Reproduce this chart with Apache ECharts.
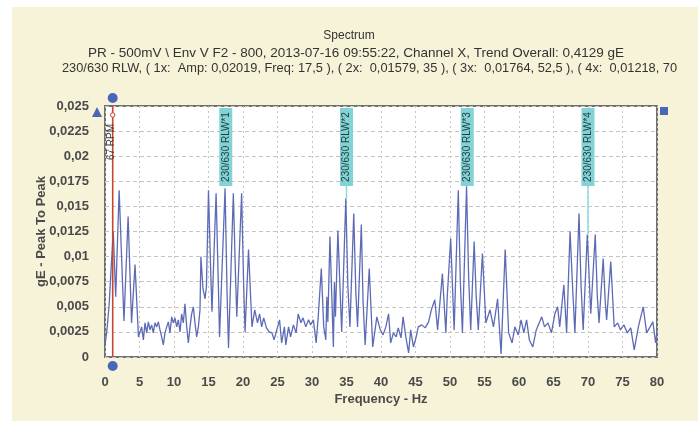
<!DOCTYPE html>
<html>
<head>
<meta charset="utf-8">
<script src="https://cdn.jsdelivr.net/npm/echarts/dist/echarts.min.js"></script>
<style>
  html, body { margin: 0; padding: 0; background: #ffffff; width: 698px; height: 421px; overflow: hidden; }
  #bg { position: absolute; left: 12px; top: 7px; right: 0; bottom: 0; background: #f7f3d8; }
  #chart { position: absolute; left: 0; top: 0; width: 698px; height: 421px; }
</style>
</head>
<body>
<div id="bg"></div>
<div id="chart"></div>
<script>
// ---- Data ----
const titleMain = 'Spectrum';
const titleLine2 = 'PR - 500mV \\ Env V F2 - 800, 2013-07-16 09:55:22, Channel X, Trend Overall: 0,4129 gE';
const titleLine3 = '230/630 RLW, ( 1x:  Amp: 0,02019, Freq: 17,5 ), ( 2x:  0,01579, 35 ), ( 3x:  0,01764, 52,5 ), ( 4x:  0,01218, 70';

const xAxisName = 'Frequency - Hz';
const yAxisName = 'gE - Peak To Peak';
const yTickLabels = ['0', '0,0025', '0,005', '0,0075', '0,01', '0,0125', '0,015', '0,0175', '0,02', '0,0225', '0,025'];

const freqHz = [
  0.0, 0.3, 0.6, 0.9, 1.2, 1.55, 2.05, 2.4, 2.75, 3.35, 3.85, 4.35, 4.85,
  5.07, 5.31, 5.56, 5.80, 6.04, 6.28, 6.52, 6.76, 7.00, 7.25, 7.49, 7.73, 7.97, 8.21, 8.45, 8.70, 8.94,
  9.18, 9.42, 9.66, 9.90, 10.14, 10.39, 10.63, 10.87, 11.11, 11.35, 11.59, 11.84, 12.08, 12.32, 12.56,
  12.80, 13.04, 13.29, 13.53, 13.77,
  13.9, 14.2, 14.5, 14.7, 15.0, 15.3, 15.5, 16.1, 16.4, 16.6, 17.4, 17.7, 17.9, 18.6, 18.9, 19.1, 19.8, 20.1, 20.3, 20.8, 21.3,
  21.7, 22.1, 22.4, 22.7, 23.0, 23.4, 23.8, 24.2, 24.5, 24.9, 25.3, 25.6, 26.0, 26.2, 26.6, 26.9,
  27.3, 27.7, 28.0, 28.4, 28.7, 29.1, 29.5, 29.8, 30.2, 30.6, 30.9,
  31.35, 31.7, 32.0, 32.15, 32.3, 32.6, 33.1, 33.25, 33.4, 33.75, 34.3, 34.9, 35.2, 35.5, 36.05, 36.35, 36.6,
  37.15, 37.4, 37.7, 38.3, 38.8, 39.4,
  39.9, 40.3, 40.7, 41.1, 41.4, 41.8, 42.2, 42.5, 42.9, 43.2, 43.6, 44.0, 44.3, 44.7, 45.1, 45.4,
  45.9, 46.4, 46.9, 47.3, 47.8, 48.2,
  48.9, 49.4, 49.6, 50.1, 50.6, 51.2, 51.5, 51.8, 52.4, 52.7, 53.0, 53.5, 53.8, 54.1, 54.7, 55.2, 55.8, 56.3, 56.9, 57.4,
  58.0, 58.5, 59.0, 59.4, 59.9,
  60.3, 60.7, 61.1, 61.5, 62.0, 62.5, 63.0, 63.3, 63.7, 64.2, 64.7, 65.2, 65.6, 65.9,
  66.5, 66.9, 67.4, 67.8, 68.1, 68.7, 69.0, 69.3, 69.9, 70.2, 70.4, 71.05, 71.35, 71.6, 72.2, 72.5, 72.7, 73.3, 73.8,
  74.3, 74.7, 75.2, 75.7, 76.2, 76.7, 77.3, 78.0, 78.5, 79.0, 79.4, 79.8, 80.0
];
const ampGE = [
  0.0012, 0.0028, 0.0052, 0.0090, 0.0125, 0.0060, 0.0166, 0.0100, 0.0036, 0.0140, 0.0034, 0.0092, 0.0020,
  0.0020, 0.0030, 0.0017, 0.0034, 0.0024, 0.0035, 0.0027, 0.0032, 0.0024, 0.0034, 0.0030, 0.0035, 0.0027, 0.0020, 0.0012, 0.0024, 0.0030,
  0.0035, 0.0024, 0.0040, 0.0034, 0.0039, 0.0030, 0.0037, 0.0025, 0.0043, 0.0034, 0.0053, 0.0030, 0.0014, 0.0030, 0.0043,
  0.0050, 0.0034, 0.0020, 0.0030, 0.0047,
  0.0100, 0.0068, 0.0058, 0.0070, 0.0166, 0.0090, 0.0045, 0.0163, 0.0080, 0.0020, 0.0168, 0.0060, 0.0009, 0.0163, 0.0085, 0.0040, 0.0163, 0.0070, 0.0025, 0.0107, 0.0030,
  0.0047, 0.0034, 0.0043, 0.0030, 0.0039, 0.0029, 0.0025, 0.0024, 0.0017, 0.0027, 0.0037, 0.0014, 0.0030, 0.0012, 0.0030, 0.0020,
  0.0032, 0.0024, 0.0043, 0.0034, 0.0039, 0.0030, 0.0037, 0.0032, 0.0037, 0.0014, 0.0040,
  0.0088, 0.0030, 0.0017, 0.0060, 0.0035, 0.0120, 0.0010, 0.0075, 0.0040, 0.0126, 0.0025, 0.0158, 0.0070, 0.0030, 0.0143, 0.0065, 0.0030,
  0.0132, 0.0055, 0.0012, 0.0088, 0.0010, 0.0040,
  0.0027, 0.0022, 0.0030, 0.0043, 0.0014, 0.0024, 0.0020, 0.0029, 0.0019, 0.0040, 0.0020, 0.0004, 0.0027, 0.0010, 0.0020, 0.0030,
  0.0032, 0.0029, 0.0035, 0.0047, 0.0057, 0.0027,
  0.0083, 0.0024, 0.0060, 0.0118, 0.0027, 0.0166, 0.0075, 0.0024, 0.0170, 0.0080, 0.0027, 0.0115, 0.0060, 0.0027, 0.0103, 0.0034, 0.0047, 0.0030, 0.0058, 0.0003,
  0.0107, 0.0024, 0.0014, 0.0030, 0.0022,
  0.0037, 0.0024, 0.0037, 0.0017, 0.0010, 0.0027, 0.0035, 0.0040, 0.0030, 0.0034, 0.0024, 0.0043, 0.0050, 0.0030,
  0.0072, 0.0024, 0.0125, 0.0065, 0.0024, 0.0143, 0.0070, 0.0027, 0.0122, 0.0075, 0.0043, 0.0122, 0.0060, 0.0034, 0.0098, 0.0055, 0.0037, 0.0095, 0.0030,
  0.0034, 0.0027, 0.0032, 0.0024, 0.0029, 0.0007, 0.0030, 0.0050, 0.0024, 0.0030, 0.0035, 0.0014, 0.0025
];

const markerFreq = [17.5, 35, 52.5, 70];
const markerAmp = [0.02019, 0.01579, 0.01764, 0.01218];
const markerLabels = ['230/630 RLW*1', '230/630 RLW*2', '230/630 RLW*3', '230/630 RLW*4'];

const rpmFreq = [67 / 60];
const rpmLabel = '67 RPM';

// ---- Chart ----
const chart = echarts.init(document.getElementById('chart'), null, { renderer: 'canvas' });
const FONT = '"Liberation Sans", Arial, sans-serif';
const Y_MAX = 0.025;
const BLUE = '#4a66b8';
const TXT = '#4a4a4a';

const spectrum = freqHz.map((f, i) => [f, ampGE[i]]);

chart.setOption({
  backgroundColor: 'transparent',
  animation: false,
  title: [
    { text: titleMain, left: 'center', top: 25, textStyle: { fontFamily: FONT, fontSize: 12, fontWeight: 'normal', color: '#333' } },
    { text: titleLine2, left: 83, top: 41, textStyle: { fontFamily: FONT, fontSize: 13.5, fontWeight: 'normal', color: '#333' } },
    { text: titleLine3, left: 57, top: 57, textStyle: { fontFamily: FONT, fontSize: 12.8, fontWeight: 'normal', color: '#333' } }
  ],
  grid: {
    left: 105, right: 41, top: 106, bottom: 64,
    show: true, backgroundColor: '#ffffff', borderColor: '#707070', borderWidth: 2
  },
  xAxis: {
    type: 'value', min: 0, max: 80, interval: 5,
    name: xAxisName, nameLocation: 'middle', nameGap: 36, nameMoveOverlap: false,
    nameTextStyle: { fontFamily: FONT, fontSize: 13, fontWeight: 'bold', color: TXT },
    axisLine: { show: false }, axisTick: { show: false },
    axisLabel: { margin: 19, fontFamily: FONT, fontSize: 13, fontWeight: 'bold', color: TXT },
    splitLine: { show: true, lineStyle: { color: '#c4c4c4', type: [2, 3], width: 1 } }
  },
  yAxis: {
    type: 'value', min: 0, max: Y_MAX, interval: 0.0025,
    name: yAxisName, nameLocation: 'middle', nameGap: 57, nameMoveOverlap: false,
    nameTextStyle: { fontFamily: FONT, fontSize: 13, fontWeight: 'bold', color: TXT },
    axisLine: { show: false }, axisTick: { show: false },
    axisLabel: {
      margin: 16, fontFamily: FONT, fontSize: 13, fontWeight: 'bold', color: TXT,
      formatter: (v, idx) => yTickLabels[idx] !== undefined ? yTickLabels[idx] : ''
    },
    splitLine: { show: true, lineStyle: { color: '#c4c4c4', type: [4, 3], width: 1 } }
  },
  series: [
    {
      type: 'line', data: spectrum, symbol: 'none', smooth: false,
      lineStyle: { color: '#5d6bb6', width: 1.3 }, z: 3
    },
    {
      type: 'custom', z: 5, clip: false,
      data: markerFreq.map((f, i) => [f, markerAmp[i], i]),
      renderItem: (params, api) => {
        const f = api.value(0), a = api.value(1), i = api.value(2);
        const top = api.coord([f, Y_MAX]);
        const amp = api.coord([f, a]);
        const boxTop = top[1] + 2, boxH = 78, boxW = 13;
        const boxBottom = boxTop + boxH;
        const children = [];
        if (amp[1] > boxBottom) {
          children.push({ type: 'line', shape: { x1: top[0], y1: boxBottom, x2: top[0], y2: amp[1] },
            style: { stroke: '#8fd9dc', lineWidth: 1.5 } });
        }
        children.push({ type: 'rect', shape: { x: top[0] - boxW / 2, y: boxTop, width: boxW, height: boxH },
          style: { fill: '#82d2d6' } });
        children.push({ type: 'text', x: top[0], y: boxTop + boxH / 2, rotation: Math.PI / 2,
          style: { text: markerLabels[i], fill: '#1f3a3c', font: '10px ' + FONT, align: 'center', verticalAlign: 'middle' } });
        return { type: 'group', children };
      }
    },
    {
      type: 'custom', z: 6, clip: false,
      data: rpmFreq.map(f => [f]),
      renderItem: (params, api) => {
        const f = api.value(0);
        const top = api.coord([f, Y_MAX]);
        const bot = api.coord([f, 0]);
        return { type: 'group', children: [
          { type: 'line', shape: { x1: top[0], y1: top[1], x2: bot[0], y2: bot[1] }, style: { stroke: '#c9452d', lineWidth: 1.6 } },
          { type: 'circle', shape: { cx: top[0], cy: top[1] - 8, r: 5 }, style: { fill: BLUE } },
          { type: 'circle', shape: { cx: bot[0], cy: bot[1] + 9, r: 5 }, style: { fill: BLUE } },
          { type: 'circle', shape: { cx: top[0], cy: top[1] + 9, r: 2.2 }, style: { fill: '#ffffff', stroke: '#c9452d', lineWidth: 1 } },
          { type: 'text', x: top[0] - 1, y: top[1] + 36, rotation: Math.PI / 2,
            style: { text: rpmLabel, fill: '#3a3a3a', font: '10px ' + FONT, align: 'center', verticalAlign: 'middle' } }
        ] };
      }
    }
  ],
  graphic: [
    { type: 'polygon', shape: { points: [[97, 107], [102, 117], [92, 117]] }, style: { fill: BLUE }, z: 10 },
    { type: 'rect', shape: { x: 660, y: 107, width: 8, height: 8 }, style: { fill: BLUE }, z: 10 }
  ]
});
</script>
</body>
</html>
